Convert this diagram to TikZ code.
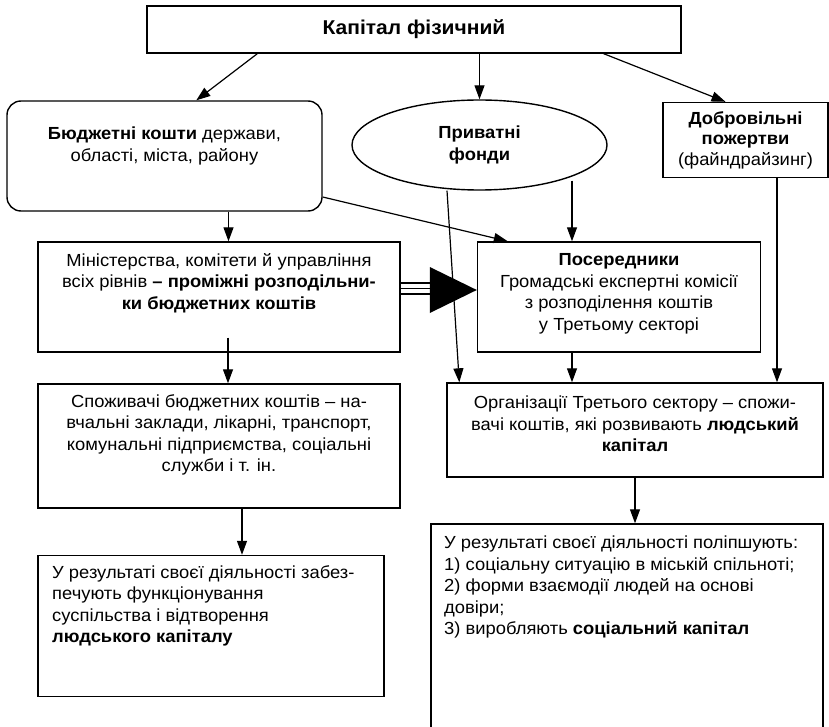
\documentclass[tikz,border=0pt]{standalone}
\usepackage{fontspec}
\setmainfont{Liberation Sans}[FakeStretch=1.05]
\usetikzlibrary{arrows.meta,shapes.geometric}
\begin{document}
\begin{tikzpicture}[x=1pt,y=-1pt,>={Triangle[length=14pt,width=10pt]},
	box/.style={draw,line width=1.4pt,inner sep=0pt},
	txt/.style={align=center,inner sep=0pt,font=\fontsize{17.5}{21.5}\selectfont},
	ltxt/.style={txt,align=left,anchor=west},
	link/.style={->,line width=1.2pt}]
	\useasboundingbox (0,0) rectangle (829,727);
	\node[box,txt,font=\fontsize{20}{24}\selectfont,minimum width=534,minimum height=47] (top) at (414,29.5) {\textbf{Капітал фізичний}};
	\node[box,rounded corners=14pt,minimum width=315,minimum height=110] (budget) at (164.5,156) {};
	\node[box,ellipse,minimum width=255,minimum height=90] (fonds) at (479.5,145) {};
	\node[box,minimum width=165,minimum height=75] (gifts) at (745.5,140) {};
	\node[box,minimum width=362,minimum height=110] (minist) at (219,297) {};
	\node[box,minimum width=283,minimum height=110] (mediat) at (619,297) {};
	\node[box,minimum width=362,minimum height=124] (consum) at (219,446) {};
	\node[box,minimum width=376,minimum height=94] (orgs) at (635,430) {};
	\node[box,minimum width=346,minimum height=141] (resleft) at (211,626) {};
	\node[box,minimum width=392,minimum height=220] (resright) at (627,634) {};
	\node[txt,font=\fontsize{17.5}{22.5}\selectfont] (budgettxt) at (164.5,146) {\textbf{Бюджетні кошти} держави,\\області, міста, району};
	\node[txt,font=\fontsize{17.5}{22}\selectfont] (fondstxt) at (479.5,145) {\textbf{Приватні}\\\textbf{фонди}};
	\node[txt,font=\fontsize{17.5}{20.5}\selectfont] (giftstxt) at (745.5,140) {\textbf{Добровільні}\\\textbf{пожертви}\\(файндрайзинг)};
	\node[txt] (ministtxt) at (219,283) {Міністерства, комітети й управління\\всіх рівнів \textbf{– проміжні розподільни-}\\\textbf{ки бюджетних коштів}};
	\node[txt] (mediattxt) at (619,294) {\textbf{Посередники}\\Громадські експертні комісії\\з розподілення коштів\\у Третьому секторі};
	\node[txt] (consumtxt) at (219,435) {Споживачі бюджетних коштів – на-\\вчальні заклади, лікарні, транспорт,\\комунальні підприємства, соціальні\\служби і т. ін.};
	\node[txt] (orgstxt) at (635,424) {Організації Третього сектору – спожи-\\вачі коштів, які розвивають \textbf{людський}\\\textbf{капітал}};
	\node[ltxt] (lefttxt) at (52,606) {У результаті своєї діяльності забез-\\печують функціонування\\суспільства і відтворення\\\textbf{людського капіталу}};
	\node[ltxt] (righttxt) at (444,587) {У результаті своєї діяльності поліпшують:\\1) соціальну ситуацію в міській спільноті;\\2) форми взаємодії людей на основі\\довіри;\\3) виробляють \textbf{соціальний капітал}};
	\draw[link] ([xshift=111pt]top.south west) -- ([xshift=190pt]budget.north west);
	\draw[link] (fonds.north |- top.south) -- (fonds.north);
	\draw[link] ([xshift=-78pt]top.south east) -- ([xshift=-20pt]gifts.north);
	\draw[link] ([xshift=64pt]budget.south) -- ([xshift=64pt]budget.south |- minist.north);
	\draw[link] ([yshift=-41pt]budget.east) -- ([xshift=31pt]mediat.north west);
	\draw[link] ([xshift=-47pt,yshift=10pt]mediat.north |- fonds.south) -- ([xshift=-47pt]mediat.north);
	\draw[link] ([xshift=-32.5pt]fonds.south) -- ([xshift=13pt]orgs.north west);
	\draw[link] ([xshift=31.5pt]gifts.south) -- ([xshift=31.5pt]gifts.south |- orgs.north);
	\draw[link] ([xshift=9pt,yshift=15pt]minist.south) -- ([xshift=9pt]minist.south |- consum.north);
	\draw[link] ([xshift=-47pt]mediat.south) -- ([xshift=-47pt]mediat.south |- orgs.north);
	\draw[link] ([xshift=23pt]consum.south) -- ([xshift=23pt]consum.south |- resleft.north);
	\draw[link] (orgs.south) -- (orgs.south |- resright.north);
	\foreach \dy in {3,8.5,14}
		\draw[line width=1.3pt] ([yshift=\dy pt]minist.east) -- ++(32,0);
	\fill ([yshift=7pt]mediat.west) -- ++(-47,-23) -- ++(0,46) -- cycle;
\end{tikzpicture}
\end{document}
